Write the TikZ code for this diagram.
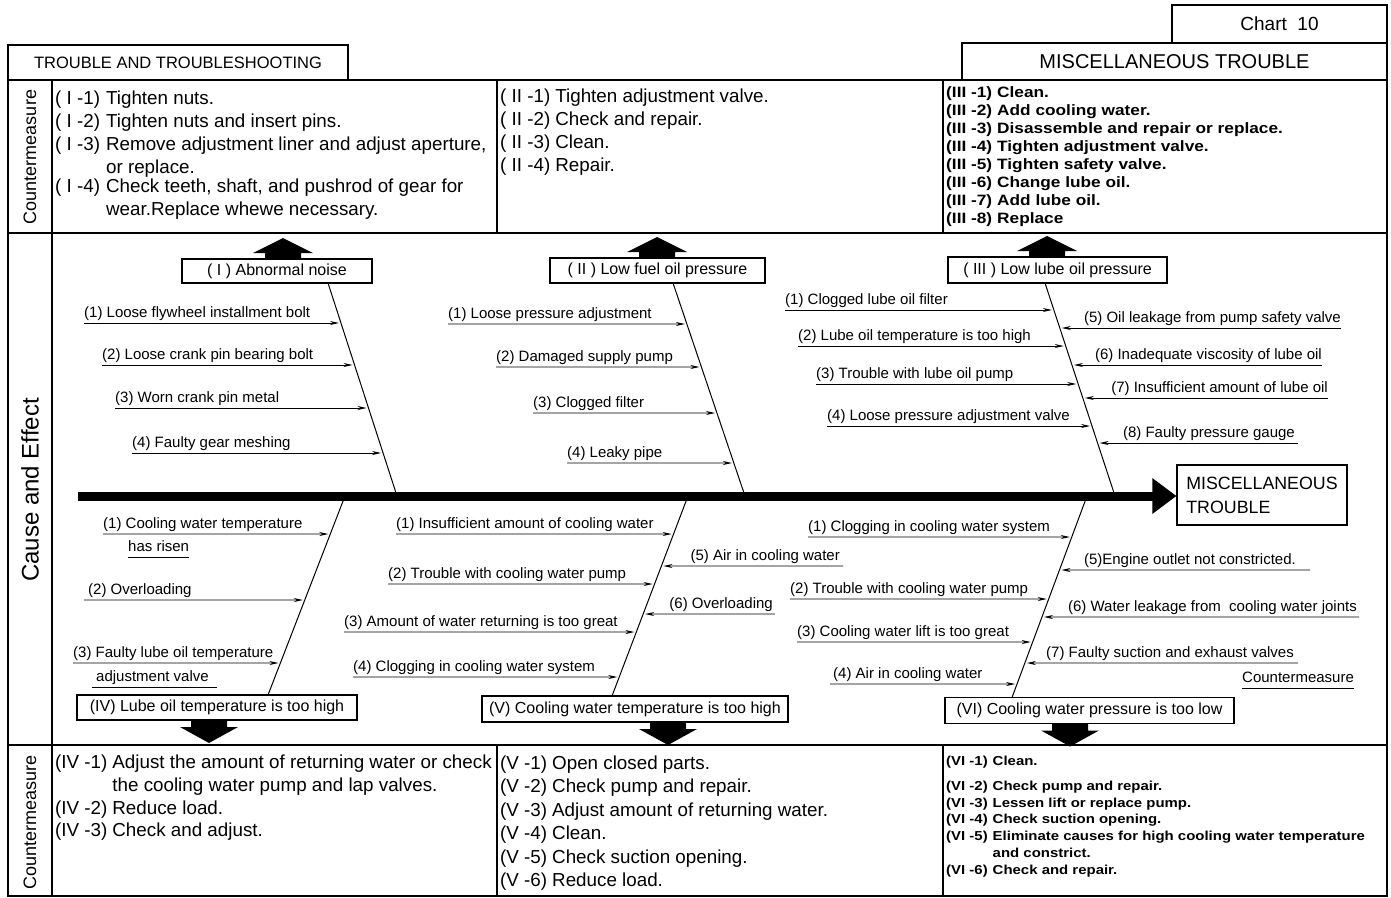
\documentclass[tikz,border=0pt]{standalone}
\usepackage{fontspec}
\setmainfont{Liberation Sans}
\newfontfamily\widefont[FakeStretch=1.15]{Liberation Sans}
\usetikzlibrary{arrows.meta}

% cause arrow from the left (or right) onto a bone
\newcommand{\causeL}[7][]{%
  \coordinate (#2s) at (#6,#5);
  \coordinate (#2e) at (intersection of #3--#4 and #6,#5--0,#5);
  \node[lbl, anchor=base west, #1] (#2) at (#2s) {#7};
  \draw[cause] (#2s) -- (#2e);}
\newcommand{\causeR}[7][]{%
  \coordinate (#2s) at (#6,#5);
  \coordinate (#2e) at (intersection of #3--#4 and #6,#5--0,#5);
  \node[lbl, anchor=base east, #1] (#2) at (#2s) {#7};
  \draw[cause] (#2s) -- (#2e);}
% fat block arrows
\newcommand{\fatup}[1]{\fill (#1) ++(-18,0) -- ++(0,-6) -- ++(-12,0) -- ++(30,-15) -- ++(30,15) -- ++(-12,0) -- ++(0,6) -- cycle;}
\newcommand{\fatdown}[1]{\fill (#1) ++(-18,0) -- ++(0,7) -- ++(-11,0) -- ++(29,16) -- ++(29,-16) -- ++(-11,0) -- ++(0,-7) -- cycle;}

\begin{document}
\begin{tikzpicture}[x=1pt,y=-1pt,
  frame/.style={line width=1.3pt},
  hdr/.style={draw, line width=1.3pt, inner sep=0pt},
  side/.style={rotate=90, inner sep=0pt},
  cmlist/.style={anchor=north west, inner sep=0pt, font=\fontsize{18.8}{23}\selectfont},
  cmwide/.style={anchor=north west, inner sep=0pt, font=\widefont\bfseries\fontsize{15}{17.9}\selectfont},
  efbox/.style={draw, line width=1.1pt, inner sep=0pt, font=\fontsize{16}{18}\selectfont},
  lbl/.style={inner sep=0pt, yshift=6pt, font=\fontsize{15}{17}\selectfont},
  cause/.style={line width=0.9pt, -{Stealth[length=9pt,width=4pt]}, shorten >=2pt},
  bone/.style={line width=1pt},
  spine/.style={line width=9pt, -{Triangle[length=24pt,width=34pt]}},
  uline/.style={line width=0.9pt}]
\useasboundingbox (0,0) rectangle (1391,897);

% headers
\node[hdr, minimum width=340, minimum height=35, font=\fontsize{16.5}{18}\selectfont] (hdrL) at (178,62.5) {TROUBLE AND TROUBLESHOOTING};
\node[hdr, minimum width=425, minimum height=37, font=\fontsize{20}{22}\selectfont] (hdrR) at (1174.5,61.5) {MISCELLANEOUS TROUBLE};
\node[hdr, minimum width=215, minimum height=38, font=\fontsize{19}{21}\selectfont] (chart) at (1279.5,24) {Chart\ \ 10};

% table frame
\draw[frame] (8,80) rectangle (1387,896);
\draw[frame] (8,233) -- (1387,233);
\draw[frame] (8,745) -- (1387,745);
\draw[frame] (52,80) -- (52,896);
\draw[frame] (497,80) -- (497,233);
\draw[frame] (943,80) -- (943,233);
\draw[frame] (497,745) -- (497,896);
\draw[frame] (943,745) -- (943,896);

\node[side, font=\fontsize{18}{20}\selectfont] (cmTop) at (30,157) {Countermeasure};
\node[side, font=\fontsize{24}{26}\selectfont] (causeEff) at (30,490) {Cause and Effect};
\node[side, font=\fontsize{18}{20}\selectfont] (cmBot) at (30,822) {Countermeasure};

% countermeasures, top row
\node[cmlist] (cmI) at (55,88) {\begin{tabular}{@{}l@{\hspace{6pt}}l@{}}
( I -1) & Tighten nuts.\\
( I -2) & Tighten nuts and insert pins.\\
( I -3) & Remove adjustment liner and adjust aperture,\\
        & or replace.\\[-4pt]
( I -4) & Check teeth, shaft, and pushrod of gear for\\
        & wear.Replace whewe necessary.
\end{tabular}};
\node[cmlist] (cmII) at (500,86.5) {\begin{tabular}{@{}l@{\hspace{5pt}}l@{}}
( II -1) & Tighten adjustment valve.\\
( II -2) & Check and repair.\\
( II -3) & Clean.\\
( II -4) & Repair.
\end{tabular}};
\node[cmwide] (cmIII) at (946,85) {\begin{tabular}{@{}l@{\hspace{5pt}}l@{}}
(III -1) & Clean.\\
(III -2) & Add cooling water.\\
(III -3) & Disassemble and repair or replace.\\
(III -4) & Tighten adjustment valve.\\
(III -5) & Tighten safety valve.\\
(III -6) & Change lube oil.\\
(III -7) & Add lube oil.\\
(III -8) & Replace
\end{tabular}};

% countermeasures, bottom row
\node[cmlist, font=\fontsize{18.8}{22.7}\selectfont] (cmIV) at (55,752.5) {\begin{tabular}{@{}l@{\hspace{5pt}}l@{}}
(IV -1) & Adjust the amount of returning water or check\\
        & the cooling water pump and lap valves.\\
(IV -2) & Reduce load.\\
(IV -3) & Check and adjust.
\end{tabular}};
\node[cmlist, font=\fontsize{18.8}{23.4}\selectfont] (cmV) at (500,753) {\begin{tabular}{@{}l@{\hspace{5pt}}l@{}}
(V -1) & Open closed parts.\\
(V -2) & Check pump and repair.\\
(V -3) & Adjust amount of returning water.\\
(V -4) & Clean.\\
(V -5) & Check suction opening.\\
(V -6) & Reduce load.
\end{tabular}};
\node[cmwide, font=\widefont\bfseries\fontsize{13}{16.8}\selectfont] (cmVI) at (946,753.5) {\begin{tabular}{@{}l@{\hspace{5pt}}l@{}}
(VI -1) & Clean.\\[8pt]
(VI -2) & Check pump and repair.\\
(VI -3) & Lessen lift or replace pump.\\
(VI -4) & Check suction opening.\\
(VI -5) & Eliminate causes for high cooling water temperature\\
        & and constrict.\\
(VI -6) & Check and repair.
\end{tabular}};

% effect and spine
\coordinate (tail) at (78,496);
\node[efbox, minimum width=170, minimum height=60, align=left, font=\fontsize{17.8}{24}\selectfont] (effect) at (1262,495) {MISCELLANEOUS\\TROUBLE};
\draw[spine] (tail) -- (tail -| effect.west);

% trouble boxes
\node[efbox, minimum width=190, minimum height=24] (efI) at (277,271) {( I ) Abnormal noise};
\node[efbox, minimum width=215, minimum height=25] (efII) at (657.5,270.5) {( II ) Low fuel oil pressure};
\node[efbox, minimum width=219, minimum height=26] (efIII) at (1057.5,270) {( III ) Low lube oil pressure};
\node[efbox, minimum width=280, minimum height=25] (efIV) at (217,707.5) {(IV) Lube oil temperature is too high};
\node[efbox, minimum width=306, minimum height=26] (efV) at (635,709) {(V) Cooling water temperature is too high};
\node[efbox, minimum width=289, minimum height=26] (efVI) at (1089.5,710.5) {(VI) Cooling water pressure is too low};

\fatup{657,258}
\fatup{283,259}
\fatup{1047,257}
\fatdown{209,720}
\fatdown{668,722}
\fatdown{1070,723.5}

% bones
\coordinate (tI) at (328,283);   \coordinate (bI) at (397,496);
\coordinate (tII) at (673,283);  \coordinate (bII) at (745,496);
\coordinate (tIII) at (1045,283);\coordinate (bIII) at (1115,496);
\coordinate (tIV) at (345,496);  \coordinate (bIV) at (268,695);
\coordinate (tV) at (688,496);   \coordinate (bV) at (612,696);
\coordinate (tVI) at (1087,496); \coordinate (bVI) at (1012,697.5);
\draw[bone] (tI) -- (bI);
\draw[bone] (tII) -- (bII);
\draw[bone] (tIII) -- (bIII);
\draw[bone] (tIV) -- (bIV);
\draw[bone] (tV) -- (bV);
\draw[bone] (tVI) -- (bVI);

% causes (I)
\causeL{c11}{tI}{bI}{323}{84}{(1) Loose flywheel installment bolt}
\causeL{c12}{tI}{bI}{365}{102}{(2) Loose crank pin bearing bolt}
\causeL{c13}{tI}{bI}{408}{115}{(3) Worn crank pin metal}
\causeL{c14}{tI}{bI}{453}{132}{(4) Faulty gear meshing}
% causes (II)
\causeL{c21}{tII}{bII}{324}{448}{(1) Loose pressure adjustment}
\causeL{c22}{tII}{bII}{367}{496}{(2) Damaged supply pump}
\causeL{c23}{tII}{bII}{413}{533}{(3) Clogged filter}
\causeL{c24}{tII}{bII}{463}{567}{(4) Leaky pipe}
% causes (III)
\causeL{c31}{tIII}{bIII}{310}{785}{(1) Clogged lube oil filter}
\causeL{c32}{tIII}{bIII}{346}{798}{(2) Lube oil temperature is too high}
\causeL{c33}{tIII}{bIII}{384}{816}{(3) Trouble with lube oil pump}
\causeL{c34}{tIII}{bIII}{426}{827}{(4) Loose pressure adjustment valve}
\causeR{c35}{tIII}{bIII}{328}{1341}{(5) Oil leakage from pump safety valve}
\causeR{c36}{tIII}{bIII}{365}{1322}{(6) Inadequate viscosity of lube oil}
\causeR{c37}{tIII}{bIII}{398}{1328}{(7) Insufficient amount of lube oil}
\causeR[xshift=-3pt]{c38}{tIII}{bIII}{443}{1298}{(8) Faulty pressure gauge}
% causes (IV)
\causeL{c41}{tIV}{bIV}{534}{103}{(1) Cooling water temperature}
\node[lbl, anchor=base west] (c41b) at (128,557) {has risen};
\draw[uline] ([yshift=-6pt]c41b.base west) -- ([yshift=-6pt]c41b.base east);
\causeL[xshift=4pt]{c42}{tIV}{bIV}{600}{84}{(2) Overloading}
\causeL{c43}{tIV}{bIV}{663}{73}{(3) Faulty lube oil temperature}
\node[lbl, anchor=base west] (c43b) at (96,687) {adjustment valve};
\draw[uline] ([yshift=-6pt,xshift=-4pt]c43b.base west) -- ([yshift=-6pt,xshift=8pt]c43b.base east);
% causes (V)
\causeL{c51}{tV}{bV}{534}{396}{(1) Insufficient amount of cooling water}
\causeL{c52}{tV}{bV}{584}{388}{(2) Trouble with cooling water pump}
\causeL{c53}{tV}{bV}{632}{344}{(3) Amount of water returning is too great}
\causeL{c54}{tV}{bV}{677}{353}{(4) Clogging in cooling water system}
\causeR[xshift=-3pt]{c55}{tV}{bV}{566}{843}{(5) Air in cooling water}
\causeR[xshift=-2pt]{c56}{tV}{bV}{614}{775}{(6) Overloading}
% causes (VI)
\causeL{c61}{tVI}{bVI}{537}{808}{(1) Clogging in cooling water system}
\causeL{c62}{tVI}{bVI}{599}{790}{(2) Trouble with cooling water pump}
\causeL{c63}{tVI}{bVI}{642}{797}{(3) Cooling water lift is too great}
\causeL[xshift=3pt]{c64}{tVI}{bVI}{684}{830}{(4) Air in cooling water}
\causeR[xshift=-14pt]{c65}{tVI}{bVI}{570}{1310}{(5)Engine outlet not constricted.}
\causeR[xshift=-2pt]{c66}{tVI}{bVI}{617}{1359}{(6) Water leakage from\ \ cooling water joints}
\causeR[xshift=-4pt]{c67}{tVI}{bVI}{663}{1298}{(7) Faulty suction and exhaust valves}
\node[lbl, anchor=base west] (stray) at (1242,688) {Countermeasure};
\draw[uline] ([yshift=-6pt]stray.base west) -- ([yshift=-6pt]stray.base east);
\end{tikzpicture}
\end{document}
